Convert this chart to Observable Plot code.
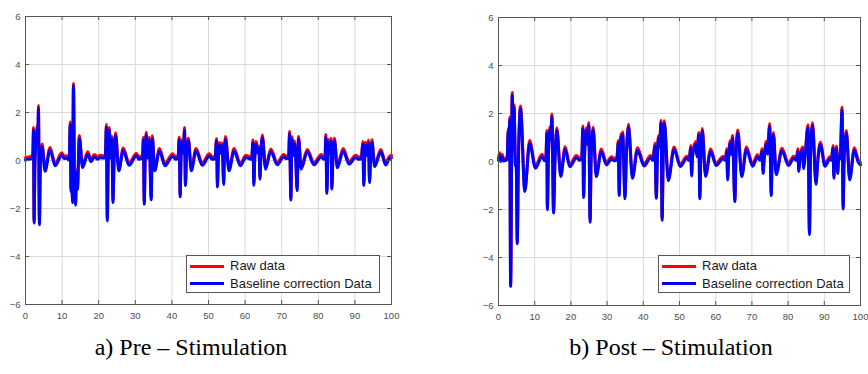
<!DOCTYPE html>
<html>
<head>
<meta charset="utf-8">
<script src="https://cdn.jsdelivr.net/npm/d3@7"></script>
<script src="https://cdn.jsdelivr.net/npm/@observablehq/plot@0.6"></script>
<style>
  html, body { margin: 0; padding: 0; background: #fff; }
  #wrap { position: relative; width: 868px; height: 374px; overflow: hidden; background: #fff; }
  .panel { position: absolute; top: 0; }
  .legend { position: absolute; background: #fff; border: 1px solid #555; box-sizing: border-box;
            font-family: "Liberation Sans", Arial, sans-serif; font-size: 13px; color: #1a1a1a; }
  .legend .row { position: absolute; left: 0; height: 16px; line-height: 16px; white-space: nowrap; }
  .legend .sw { position: absolute; left: 3px; top: 6.5px; width: 34px; height: 3px; }
  .legend .tx { position: absolute; left: 43px; top: 0; }
  .cap { position: absolute; font-family: "Liberation Serif", "Times New Roman", serif; font-size: 24px;
         line-height: 1; color: #000; white-space: nowrap; transform: translateX(-50%); }
</style>
</head>
<body>
<div id="wrap"></div>
<script>
// ---- tick labels ----
const xTicks = [0, 10, 20, 30, 40, 50, 60, 70, 80, 90, 100];
const yTicks = [-6, -4, -2, 0, 2, 4, 6];
const seriesNames = ["Raw data", "Baseline correction Data"];
const captions = ["a) Pre \u2013 Stimulation", "b) Post \u2013 Stimulation"];

// ---- a) Pre-stimulation ----
const preX = [0,0.8,1.6,2.0,2.18,2.35,2.6,3.0,3.27,3.4,3.54,3.8,4.1,4.53,5.35,6.7,8.1,9.9,10.6,11.3,11.8,
  12.0,12.2,12.45,12.6,12.85,13.1,13.45,13.7,13.9,14.2,14.7,15.6,17.0,17.9,18.8,19.7,20.4,21.1,21.8,
  22.1,22.35,22.6,22.9,23.2,23.6,23.9,24.2,24.6,25.5,26.7,28.3,30.3,31.0,31.6,
  32.0,32.2,32.45,32.7,32.95,33.3,33.8,34.35,34.65,35.3,36.6,38.1,40.2,41.0,41.7,
  42.0,42.25,42.5,42.8,43.15,43.45,43.7,44.0,44.5,45.3,46.6,48.3,50.2,51.0,51.8,
  52.2,52.45,52.7,53.05,53.4,53.75,54.15,54.35,54.65,55.6,57.0,58.7,60.2,61.0,61.8,
  62.15,62.4,62.65,63.05,63.5,63.8,64.05,64.3,64.7,65.6,67.0,68.8,70.5,71.3,71.9,
  72.15,72.5,72.8,73.1,73.45,73.8,74.2,74.6,75.3,77.0,78.8,80.8,81.5,81.85,
  82.05,82.35,82.6,82.8,83.2,83.45,83.7,84.0,84.4,85.2,86.8,88.4,90.2,91.0,91.8,
  92.15,92.45,92.7,92.95,93.3,93.7,94.0,94.3,94.65,95.4,97.1,98.4,99.3,100];
const preCorrected = [0.02,0.05,0.08,0.15,1.27,-2.6,0.0,1.0,1.4,0.9,2.18,-2.68,0.2,0.58,-0.45,0.44,-0.22,0.22,0.08,0.1,0.02,
  0.15,1.49,-1.3,-0.2,-1.76,3.11,-1.5,-1.86,-0.5,-1.2,0.93,-0.3,0.26,-0.05,0.15,0.05,0.12,0.1,0.1,
  1.39,-2.51,0.0,1.27,0.1,0.9,-1.75,0.0,1.05,-0.43,0.42,-0.2,0.2,0.05,0.08,
  0.1,0.85,-1.82,0.1,1.07,0.1,0.85,-1.64,0.92,-0.43,0.4,-0.22,0.18,0.05,0.1,
  0.86,-1.51,0.1,0.75,0.3,1.26,-1.05,0.2,0.82,-0.43,0.4,-0.2,0.18,0.05,0.08,
  0.8,-1.1,0.1,0.64,0.3,0.62,-1.0,0.2,0.89,-0.43,0.4,-0.22,0.12,0.08,0.05,
  0.74,-1.03,0.1,0.68,0.3,0.5,-0.78,0.1,0.95,-0.36,0.38,-0.18,0.15,0.08,0.1,
  1.1,-1.65,0.88,0.2,0.7,0.2,-1.26,0.89,-0.36,0.36,-0.18,0.15,0.05,0.1,
  0.97,-1.37,0.2,0.76,0.3,0.82,-1.19,0.1,0.82,-0.3,0.4,-0.15,0.12,0.05,0.08,
  0.68,-1.04,0.2,0.65,0.2,0.74,-0.93,0.1,0.75,-0.25,0.36,-0.19,0.05,0.12];
const preRaw = [0.12,0.15,0.18,0.25,1.38,-2.5,0.1,1.1,1.5,1.0,2.29,-2.58,0.3,0.69,-0.35,0.54,-0.12,0.32,0.18,0.2,0.12,
  0.25,1.6,-1.2,-0.1,-1.66,3.22,-1.4,-1.76,-0.4,-1.1,1.04,-0.2,0.36,0.05,0.25,0.15,0.22,0.2,0.2,
  1.5,-2.41,0.1,1.38,0.2,1.0,-1.65,0.1,1.16,-0.33,0.52,-0.1,0.3,0.15,0.18,
  0.2,0.96,-1.72,0.2,1.18,0.2,0.96,-1.54,1.03,-0.33,0.5,-0.12,0.28,0.15,0.2,
  0.97,-1.41,0.2,0.86,0.4,1.37,-0.95,0.3,0.93,-0.33,0.5,-0.1,0.28,0.15,0.18,
  0.91,-1.0,0.2,0.75,0.4,0.73,-0.9,0.3,1.0,-0.33,0.5,-0.12,0.22,0.18,0.15,
  0.85,-0.93,0.2,0.79,0.4,0.6,-0.68,0.2,1.06,-0.26,0.48,-0.08,0.25,0.18,0.2,
  1.21,-1.55,0.99,0.3,0.81,0.3,-1.16,1.0,-0.26,0.46,-0.08,0.25,0.15,0.2,
  1.08,-1.27,0.3,0.87,0.4,0.93,-1.09,0.2,0.93,-0.2,0.5,-0.05,0.22,0.15,0.18,
  0.79,-0.94,0.3,0.76,0.3,0.85,-0.83,0.2,0.86,-0.15,0.46,-0.09,0.15,0.22];

// ---- b) Post-stimulation ----
const postX = [0,0.3,0.6,1.0,1.4,2.0,2.4,2.7,2.9,3.1,3.35,3.8,4.05,4.3,4.7,4.9,5.18,5.5,6.08,7.27,8.6,10.2,12.0,12.8,
  13.1,13.35,13.5,13.8,14.25,14.45,14.75,15.2,15.6,16.1,17.2,18.4,19.7,21.5,22.5,23.0,
  23.3,23.5,23.8,24.3,24.6,24.95,25.3,25.6,26.15,27.0,28.4,29.8,31.2,32.0,32.7,
  33.1,33.35,33.6,33.85,34.05,34.3,34.95,35.3,35.9,37.0,38.4,40.2,42.0,42.7,
  43.2,43.6,43.9,44.2,44.5,44.9,45.2,45.5,45.8,46.9,48.5,50.2,52.0,52.7,
  53.1,53.35,53.6,54.5,54.8,55.35,55.6,55.9,56.3,57.2,58.6,60.1,62.0,62.7,
  63.05,63.3,63.6,64.0,64.25,64.65,65.3,65.6,66.1,67.2,68.5,70.2,71.5,72.3,
  72.8,73.1,73.4,74.0,74.3,74.9,75.35,75.6,75.95,76.7,78.3,80.1,81.5,82.3,
  82.7,82.95,83.3,84.0,84.3,84.7,85.5,85.9,86.2,86.75,87.7,88.2,88.9,90.2,91.5,92.0,
  92.4,92.65,92.9,93.4,93.7,94.0,94.4,94.9,95.2,95.5,96.1,97.0,98.3,99.3,100];
const postCorrected = [0.05,0.25,0.0,0.2,0.02,0.05,0.1,1.26,0.4,1.74,-5.2,2.76,0.5,2.25,-0.2,-0.1,-3.43,0.0,2.2,-1.25,0.76,-0.28,0.2,0.03,
  0.05,1.18,-2.0,0.2,1.35,0.9,1.87,-2.15,0.0,1.3,-0.63,0.51,-0.22,0.15,0.05,0.1,
  1.37,-1.5,0.3,1.3,0.7,1.5,-2.53,0.2,1.32,-0.63,0.42,-0.14,0.1,0.03,0.08,
  0.77,-1.42,0.2,1.05,0.5,1.12,-1.55,0.1,1.44,-0.7,0.47,-0.19,0.15,0.05,
  0.65,-1.53,0.2,0.97,0.6,1.6,-2.45,0.3,1.59,-0.8,0.5,-0.21,0.12,0.05,
  0.56,-0.6,0.2,0.72,0.2,1.1,-1.55,0.2,1.27,-0.62,0.42,-0.17,0.11,0.05,
  0.42,-0.77,0.2,0.75,0.3,0.97,-1.67,0.2,1.2,-0.63,0.5,-0.2,0.18,0.05,
  0.42,-0.5,0.1,0.74,0.3,1.46,-1.42,0.3,1.1,-0.55,0.45,-0.17,0.12,0.05,
  0.42,-0.42,0.1,0.49,-0.3,0.2,1.42,-3.05,0.2,1.5,-0.95,0.0,0.7,-0.2,0.1,0.05,
  0.56,-0.7,0.2,0.53,-0.5,0.2,0.1,2.15,-1.98,0.2,1.18,-0.77,0.47,0.0,-0.14];
const postRaw = [0.15,0.36,0.1,0.3,0.12,0.15,0.2,1.37,0.5,1.85,-5.1,2.87,0.6,2.36,-0.1,0.0,-3.33,0.1,2.31,-1.15,0.87,-0.18,0.3,0.13,
  0.15,1.29,-1.9,0.3,1.46,1.0,1.98,-2.05,0.1,1.41,-0.53,0.61,-0.12,0.25,0.15,0.2,
  1.48,-1.4,0.4,1.41,0.8,1.61,-2.43,0.3,1.43,-0.53,0.52,-0.04,0.2,0.13,0.18,
  0.88,-1.32,0.3,1.16,0.6,1.23,-1.45,0.2,1.55,-0.6,0.57,-0.09,0.25,0.15,
  0.76,-1.43,0.3,1.08,0.7,1.71,-2.35,0.4,1.7,-0.7,0.6,-0.11,0.22,0.15,
  0.67,-0.5,0.3,0.83,0.3,1.21,-1.45,0.3,1.38,-0.52,0.52,-0.07,0.21,0.15,
  0.53,-0.67,0.3,0.86,0.4,1.08,-1.57,0.3,1.31,-0.53,0.6,-0.1,0.28,0.15,
  0.53,-0.4,0.2,0.85,0.4,1.57,-1.32,0.4,1.21,-0.45,0.55,-0.07,0.22,0.15,
  0.53,-0.32,0.2,0.6,-0.2,0.3,1.53,-2.95,0.3,1.61,-0.85,0.1,0.8,-0.1,0.2,0.15,
  0.67,-0.6,0.3,0.64,-0.4,0.3,0.2,2.26,-1.88,0.3,1.29,-0.67,0.57,0.1,-0.04];

const RED = "#ff0000", BLUE = "#0000ff";

function makePanel(xs, raw, corr, opts) {
  const rawRows = xs.map((x, i) => ({x, y: raw[i]}));
  const corRows = xs.map((x, i) => ({x, y: corr[i]}));
  return Plot.plot({
    width: opts.width,
    height: 330,
    marginLeft: 25,
    marginRight: opts.marginRight,
    marginTop: opts.marginTop,
    marginBottom: 330 - opts.bottom,
    x: {domain: [0, 100]},
    y: {domain: [-6, 6]},
    style: {fontFamily: "'Liberation Sans', Arial, sans-serif", fontSize: "9.5px", background: "#fff", overflow: "visible"},
    marks: [
      Plot.gridX(xTicks, {stroke: "#d9d9d9", strokeOpacity: 1}),
      Plot.gridY(yTicks, {stroke: "#d9d9d9", strokeOpacity: 1}),
      Plot.line(rawRows, {x: "x", y: "y", stroke: RED, strokeWidth: 3, curve: "monotone-x"}),
      Plot.line(corRows, {x: "x", y: "y", stroke: BLUE, strokeWidth: 3, curve: "monotone-x"}),
      Plot.frame({stroke: "#555", strokeWidth: 1}),
      // inward tick marks on all four sides
      Plot.ruleX(xTicks, {x: d => d, y1: -6, y2: -6, insetTop: -4, stroke: "#555"}),
      Plot.ruleX(xTicks, {x: d => d, y1: 6, y2: 6, insetBottom: -4, stroke: "#555"}),
      Plot.ruleY(yTicks, {y: d => d, x1: 0, x2: 0, insetRight: -4, stroke: "#555"}),
      Plot.ruleY(yTicks, {y: d => d, x1: 100, x2: 100, insetLeft: -4, stroke: "#555"}),
      Plot.axisX(xTicks, {tickSize: 0, tickPadding: 8, fill: "#4d4d4d", label: null}),
      Plot.axisY(yTicks, {tickSize: 0, tickPadding: 5, fill: "#4d4d4d", label: null})
    ]
  });
}

const wrap = document.getElementById("wrap");

const left = makePanel(preX, preRaw, preCorrected, {width: 400, marginRight: 9, marginTop: 16, bottom: 304});
left.classList.add("panel"); left.style.left = "0px";
wrap.appendChild(left);

const right = makePanel(postX, postRaw, postCorrected, {width: 395, marginRight: 8, marginTop: 17, bottom: 305});
right.classList.add("panel"); right.style.left = "473px";
wrap.appendChild(right);

function addLegend(left, top, w, h) {
  const lg = document.createElement("div");
  lg.className = "legend";
  Object.assign(lg.style, {left: left + "px", top: top + "px", width: w + "px", height: h + "px"});
  [[RED, seriesNames[0], 2], [BLUE, seriesNames[1], 19.5]].forEach(([c, t, y]) => {
    const row = document.createElement("div");
    row.className = "row"; row.style.top = y + "px";
    const sw = document.createElement("div"); sw.className = "sw"; sw.style.background = c;
    const tx = document.createElement("div"); tx.className = "tx"; tx.textContent = t;
    row.appendChild(sw); row.appendChild(tx); lg.appendChild(row);
  });
  wrap.appendChild(lg);
}
addLegend(186, 255, 194, 38);
addLegend(658, 255, 192, 38);

function addCaption(text, cx, top) {
  const d = document.createElement("div");
  d.className = "cap"; d.textContent = text;
  d.style.left = cx + "px"; d.style.top = top + "px";
  wrap.appendChild(d);
}
addCaption(captions[0], 191, 335);
addCaption(captions[1], 671, 335);
</script>
</body>
</html>
